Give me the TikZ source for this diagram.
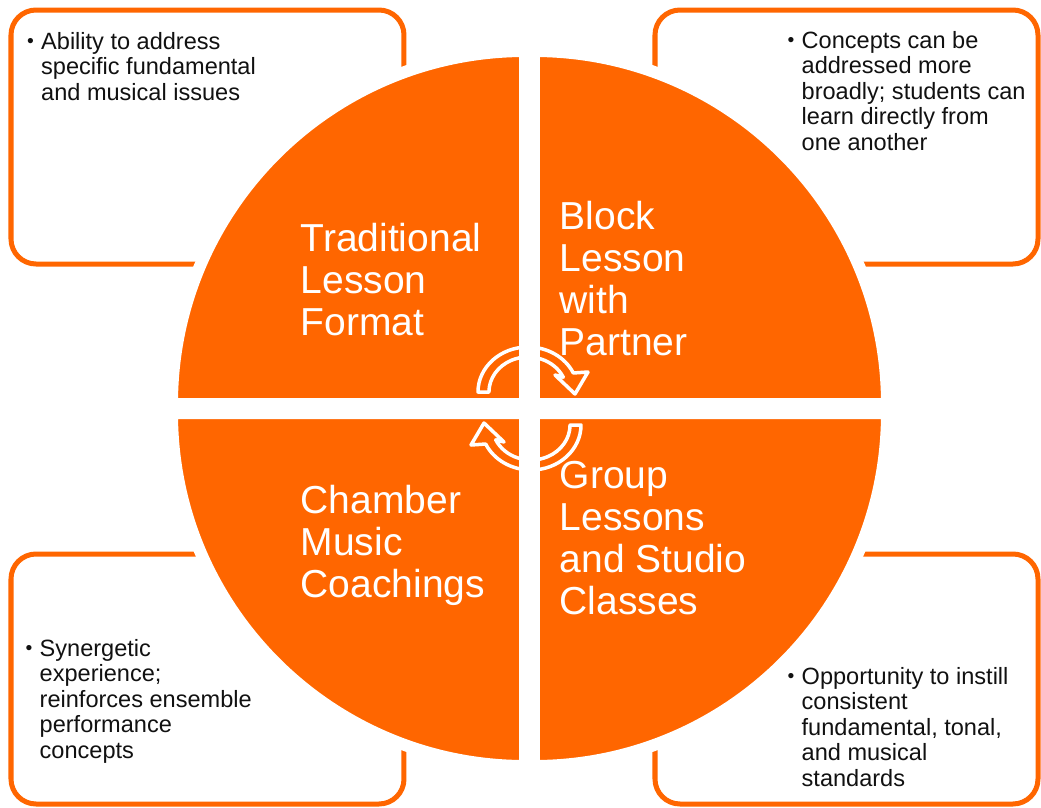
\documentclass[tikz,border=0pt]{standalone}
\usepackage{fontspec}
\setmainfont{Liberation Sans}
\definecolor{cmorange}{RGB}{255,102,0}
\definecolor{cmink}{RGB}{17,17,17}
\newcommand{\notebullet}{\llap{\raisebox{0.5pt}{\fontsize{5.5}{5.5}\selectfont\textbullet}\hspace{2.1pt}}}
\tikzset{
  notebox/.style={
    draw=cmorange,
    line width=0.05cm,
    rounded corners=2.5mm,
    fill=white,
    minimum width=3.93cm,
    minimum height=2.54cm,
    inner sep=0pt
  },
  notetext/.style={
    anchor=north west,
    align=left,
    inner sep=0pt,
    text=cmink,
    font=\fontsize{6.7}{7.25}\selectfont
  },
  quarter/.style={fill=cmorange, draw=white, line width=0.12cm},
  quartertext/.style={
    anchor=north west,
    align=left,
    inner sep=0pt,
    text=white,
    font=\fontsize{11.1}{12}\selectfont
  },
  turnline/.style={draw=white, line width=0.035cm, line join=round},
  turnarrow/.pic={
    \draw[turnline] (-0.39,0) -- (-0.50,0)
      arc[start angle=180, end angle=25, x radius=0.50, y radius=0.45]
      -- (0.60,0.20) -- (0.47,-0.02) -- (0.27,0.17) -- (0.353,0.148)
      arc[start angle=25, end angle=180, x radius=0.39, y radius=0.35] -- cycle;
  }
}

\begin{document}
\begin{tikzpicture}[x=1cm,y=1cm]
    \useasboundingbox (0,0) rectangle (10.41,8.07);

    \node[notebox] (tlbox) at (2.075,6.70) {};
    \node[notebox, minimum width=3.83cm] (trbox) at (8.465,6.70) {};
    \node[notebox, minimum height=2.50cm] (blbox) at (2.075,1.28) {};
    \node[notebox, minimum width=3.83cm, minimum height=2.50cm] (brbox) at (8.465,1.28) {};

    \filldraw[quarter] (5.25,4.03) -- (1.72,4.03) arc[start angle=180, end angle=90, radius=3.53] -- cycle;
    \filldraw[quarter] (5.34,4.03) -- (5.34,7.56) arc[start angle=90, end angle=0, radius=3.53] -- cycle;
    \filldraw[quarter] (5.25,3.94) -- (5.25,0.41) arc[start angle=270, end angle=180, radius=3.53] -- cycle;
    \filldraw[quarter] (5.34,3.94) -- (8.87,3.94) arc[start angle=0, end angle=-90, radius=3.53] -- cycle;

    \node[quartertext] (tradlbl) at (3.00,5.847) {Traditional\\Lesson\\Format};
    \node[quartertext] (blocklbl) at (5.59,6.067) {Block\\Lesson\\with\\Partner};
    \node[quartertext] (chamblbl) at (3.00,3.227) {Chamber\\Music\\Coachings};
    \node[quartertext] (grouplbl) at (5.59,3.467) {Group\\Lessons\\and Studio\\Classes};

    \pic at (5.28,4.15) {turnarrow};
    \pic[rotate=180] at (5.31,3.82) {turnarrow};

    \node[notetext] (tlnote) at (0.405,7.756) {\notebullet Ability to address\\specific fundamental\\and musical issues};
    \node[notetext] (trnote) at (8.01,7.766) {\notebullet Concepts can be\\addressed more\\broadly; students can\\learn directly from\\one another};
    \node[notetext] (blnote) at (0.39,1.686) {\notebullet Synergetic\\experience;\\reinforces ensemble\\performance\\concepts};
    \node[notetext] (brnote) at (8.01,1.406) {\notebullet Opportunity to instill\\consistent\\fundamental, tonal,\\and musical\\standards};
  \end{tikzpicture}
\end{document}
